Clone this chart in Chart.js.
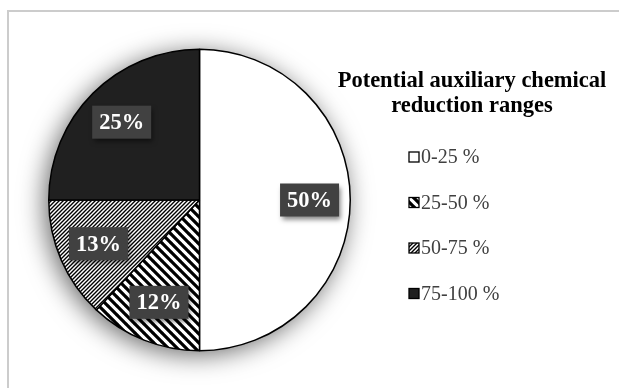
<!DOCTYPE html>
<html><head><meta charset="utf-8">
<script src="https://cdn.jsdelivr.net/npm/chart.js@4/dist/chart.umd.min.js"></script>
<style>html,body{margin:0;padding:0;background:#fff;} canvas{display:block}</style>
</head><body>
<canvas id="c" width="619" height="388"></canvas>
<script>
const categories = ['0-25 %', '25-50 %', '50-75 %', '75-100 %'];
const shares = [50, 12, 13, 25];
const valueLabels = ['50%', '12%', '13%', '25%'];
const legendTitle = ['Potential auxiliary chemical', 'reduction ranges'];

function stripes(period, width, dir) {
  const t = document.createElement('canvas');
  t.width = t.height = period;
  const g = t.getContext('2d');
  g.fillStyle = '#fff'; g.fillRect(0, 0, period, period);
  g.strokeStyle = '#000'; g.lineWidth = width;
  g.beginPath();
  for (let k = -1; k <= 1; k++) {
    const c = k * period;
    if (dir === 'back') { g.moveTo(c - 1, -1); g.lineTo(c + period + 1, period + 1); }
    else { g.moveTo(c - 1, period + 1); g.lineTo(c + period + 1, -1); }
  }
  g.stroke();
  return g.createPattern(t, 'repeat');
}
const widePattern = stripes(9, 3.2, 'back');
const finePattern = stripes(4, 1.4, 'fwd');
const fills = ['#ffffff', widePattern, finePattern, '#202020'];

const framePlugin = {
  id: 'frame',
  beforeDraw(chart) {
    const c = chart.ctx;
    c.save();
    c.fillStyle = '#fff'; c.fillRect(0, 0, chart.width, chart.height);
    c.strokeStyle = '#cccccc'; c.lineWidth = 2;
    c.beginPath(); c.moveTo(8, chart.height + 2); c.lineTo(8, 11); c.lineTo(chart.width + 2, 11); c.stroke();
    c.restore();
  }
};

const shadowPlugin = {
  id: 'pieShadow',
  beforeDatasetsDraw(chart) {
    const arc = chart.getDatasetMeta(0).data[0];
    if (!arc) return;
    const p = arc.getProps(['x', 'y', 'outerRadius'], true);
    const c = chart.ctx;
    c.save();
    c.shadowColor = 'rgba(0,0,0,0.6)'; c.shadowBlur = 26; c.shadowOffsetX = -4; c.shadowOffsetY = 4;
    c.fillStyle = '#fff';
    c.beginPath(); c.arc(p.x, p.y, p.outerRadius, 0, Math.PI * 2); c.fill();
    c.restore();
  }
};

const valueBoxPlugin = {
  id: 'valueBoxes',
  afterDatasetsDraw(chart) {
    const c = chart.ctx;
    const meta = chart.getDatasetMeta(0);
    meta.data.forEach((arc, i) => {
      const p = arc.getProps(['x', 'y', 'startAngle', 'endAngle', 'outerRadius'], true);
      const mid = (p.startAngle + p.endAngle) / 2;
      const r = p.outerRadius * 0.73;
      const cx = p.x + Math.cos(mid) * r, cy = p.y + Math.sin(mid) * r;
      const text = valueLabels[i];
      c.save();
      c.font = 'bold 22.5px "Liberation Serif"';
      const w = c.measureText(text).width + 14, h = 33;
      c.shadowColor = 'rgba(0,0,0,0.5)'; c.shadowBlur = 5; c.shadowOffsetX = 2; c.shadowOffsetY = 3;
      c.fillStyle = '#414141';
      c.fillRect(cx - w / 2, cy - h / 2, w, h);
      c.shadowColor = 'transparent';
      c.fillStyle = '#ffffff'; c.textAlign = 'center'; c.textBaseline = 'middle';
      c.fillText(text, cx, cy + 1);
      c.restore();
    });
  }
};

const legendPlugin = {
  id: 'sideLegend',
  afterDraw(chart) {
    const c = chart.ctx;
    const ds = chart.data.datasets[0];
    c.save();
    c.fillStyle = '#000'; c.textAlign = 'center'; c.textBaseline = 'alphabetic';
    c.font = 'bold 22.5px "Liberation Serif"';
    legendTitle.forEach((line, k) => c.fillText(line, 472, 87 + k * 25));
    c.font = '20px "Liberation Serif"';
    c.textAlign = 'left'; c.textBaseline = 'middle';
    chart.data.labels.forEach((lab, i) => {
      const y = 157 + i * 45.5;
      c.fillStyle = ds.backgroundColor[i];
      c.fillRect(409, y - 5, 10, 10);
      c.strokeStyle = '#000'; c.lineWidth = 1.3;
      c.strokeRect(409, y - 5, 10, 10);
      c.fillStyle = '#404040';
      c.fillText(lab, 421, y + 1);
    });
    c.restore();
  }
};

new Chart(document.getElementById('c'), {
  type: 'pie',
  data: {
    labels: categories,
    datasets: [{
      data: shares,
      backgroundColor: fills,
      borderColor: '#000000',
      borderWidth: 1.5
    }]
  },
  options: {
    responsive: false,
    animation: false,
    devicePixelRatio: 1,
    layout: { padding: { left: 48, top: 48, right: 268, bottom: 36 } },
    plugins: { legend: { display: false }, tooltip: { enabled: false } }
  },
  plugins: [framePlugin, shadowPlugin, valueBoxPlugin, legendPlugin]
});
</script>
</body></html>
